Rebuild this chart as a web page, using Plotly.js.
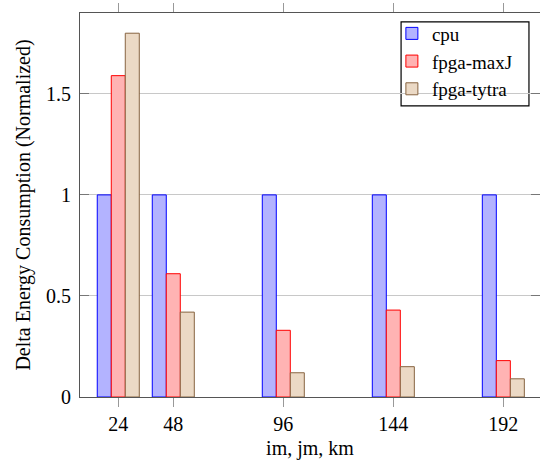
<!DOCTYPE html>
<html>
<head>
<meta charset="utf-8">
<script src="https://cdn.plot.ly/plotly-3.0.1.min.js"></script>
<style>html,body{margin:0;padding:0;background:#fff;}#chart{width:540px;height:460px;}</style>
</head>
<body>
<div id="chart"></div>
<script>
const sizes = [24, 48, 96, 144, 192];
const tickLabels = ["24", "48", "96", "144", "192"];
const cpu = [1, 1, 1, 1, 1];
const fpgaMaxJ = [1.59, 0.61, 0.33, 0.43, 0.18];
const fpgaTytra = [1.80, 0.42, 0.12, 0.15, 0.09];
const seriesNames = ["cpu", "fpga-maxJ", "fpga-tytra"];

const FONT = "Liberation Serif";

function barTrace(name, y, fill, line) {
  return {
    type: 'bar', name: name, x: sizes, y: y,
    marker: {color: fill, line: {color: line, width: 1}},
    hoverinfo: 'skip'
  };
}

const data = [
  barTrace(seriesNames[0], cpu, 'rgb(179,179,255)', 'rgb(0,0,255)'),
  barTrace(seriesNames[1], fpgaMaxJ, 'rgb(255,179,179)', 'rgb(255,0,0)'),
  barTrace(seriesNames[2], fpgaTytra, 'rgb(235,217,197)', 'rgb(135,100,65)')
];

const layout = {
  width: 540, height: 460,
  margin: {l: 80, r: 0, t: 13, b: 63},
  paper_bgcolor: '#fff', plot_bgcolor: '#fff',
  font: {family: FONT, size: 20, color: '#000'},
  barmode: 'group', bargap: 0.236, bargroupgap: 0,
  showlegend: true,
  legend: {
    x: 0.678, y: 0.996, xanchor: 'left', yanchor: 'top',
    borderwidth: 0, bgcolor: 'rgba(255,255,255,0)',
    font: {family: FONT, size: 19}, tracegroupgap: 0
  },
  shapes: [{
    type: 'rect', xref: 'paper', yref: 'paper',
    x0: 0.698, x1: 0.976, y0: 0.758, y1: 0.977,
    line: {color: 'rgb(0,0,0)', width: 1.2}, fillcolor: 'rgb(255,255,255)',
    opacity: 1, layer: 'between'
  }],
  xaxis: {
    range: [7.3, 208.0],
    tickvals: sizes, ticktext: tickLabels,
    ticks: 'outside', ticklen: 9, tickcolor: '#999', tickwidth: 1,
    showline: true, linecolor: '#555', linewidth: 1, mirror: 'ticks',
    showgrid: false, zeroline: false,
    tickfont: {family: FONT, size: 20},
    title: {text: 'im, jm, km', font: {family: FONT, size: 20}, standoff: 6}
  },
  yaxis: {
    range: [0, 1.9],
    tickvals: [0, 0.5, 1, 1.5], ticktext: ['0', '0.5', '1', '1.5'],
    ticks: 'inside', ticklen: 9, tickcolor: '#777', tickwidth: 1,
    showline: true, linecolor: '#555', linewidth: 1, mirror: 'ticks',
    showgrid: true, gridcolor: '#c8c8c8', gridwidth: 1, zeroline: false,
    ticklabelstandoff: 4,
    tickfont: {family: FONT, size: 20},
    title: {text: 'Delta Energy Consumption (Normalized)', font: {family: FONT, size: 20}, standoff: 10}
  }
};

Plotly.newPlot('chart', data, layout, {staticPlot: true, displayModeBar: false});
</script>
</body>
</html>
